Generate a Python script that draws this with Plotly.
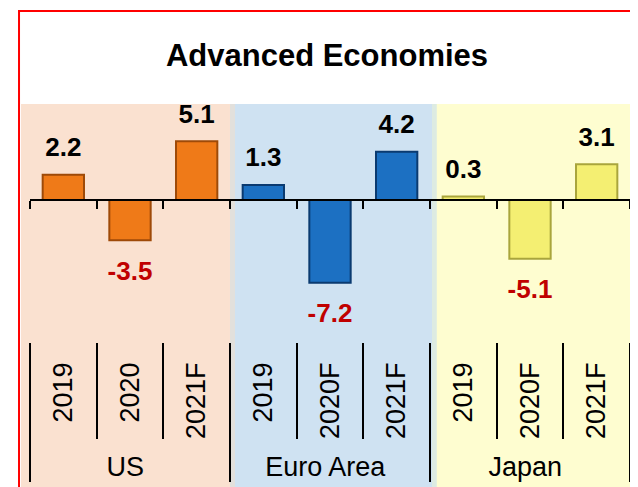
import plotly.graph_objects as go

countries = ["US", "US", "US", "Euro Area", "Euro Area", "Euro Area", "Japan", "Japan", "Japan"]
years = ["2019", "2020", "2021F", "2019", "2020F", "2021F", "2019", "2020F", "2021F"]
growth = [2.2, -3.5, 5.1, 1.3, -7.2, 4.2, 0.3, -5.1, 3.1]

face = {"US": "#EF7A18", "Euro Area": "#1C70C2", "Japan": "#F4EF72"}
edge = {"US": "#9E4A08", "Euro Area": "#0A3A70", "Japan": "#A9A53C"}
FONT = "Liberation Sans, Arial, sans-serif"

# plotly orders the 2nd level of a multicategory axis by first appearance,
# so feed the points year-major (2019s, then 2020s, then 2021s)
order = sorted(range(len(growth)), key=lambda i: i % 3)
cs = [countries[i] for i in order]
ys = [years[i] for i in order]
vals = [growth[i] for i in order]
xcat = [cs, ys]

ymin, ymax = -12.35, 8.35
zero_pos = (0 - ymin) / (ymax - ymin)

fig = go.Figure()

# background panels (paper coords)
panels = [(-0.015, 0.3367, "#FAE1D0"), (0.3367, 0.675, "#CFE2F2"), (0.675, 1.0033, "#FEFDD0")]
for x0, x1, c in panels:
    fig.add_shape(type="rect", xref="paper", yref="paper", x0=x0, x1=x1, y0=-0.7, y1=1,
                  fillcolor=c, line_width=0, layer="below")
fig.add_shape(type="rect", xref="paper", yref="paper", x0=0.3333, x1=0.3417, y0=-0.7, y1=1,
              fillcolor="#E2E0DC", line_width=0, layer="below")
fig.add_shape(type="rect", xref="paper", yref="paper", x0=0.67, x1=0.678, y0=-0.7, y1=1,
              fillcolor="#DDEBE2", line_width=0, layer="below")

fig.add_trace(go.Bar(
    x=xcat, y=vals, width=0.62,
    marker=dict(color=[face[c] for c in cs],
                line=dict(color=[edge[c] for c in cs], width=2)),
    hoverinfo="skip", showlegend=False,
))

# value labels
fig.add_trace(go.Scatter(
    x=xcat, y=vals, mode="markers+text",
    marker=dict(size=[18 if v >= 0 else 30 for v in vals], opacity=0),
    text=[f"{v:.1f}" for v in vals],
    textposition=["top center" if v >= 0 else "bottom center" for v in vals],
    textfont=dict(family=FONT, size=26, weight="bold",
                  color=["#000000" if v >= 0 else "#C00000" for v in vals]),
    hoverinfo="skip", showlegend=False,
))

# helper traces for the zero axis and the year dividers
for ax in ["x2", "x3"]:
    fig.add_trace(go.Scatter(x=xcat, y=vals, xaxis=ax, mode="markers",
                             marker=dict(opacity=0), hoverinfo="skip", showlegend=False))

xr = [-0.5, 8.5]
fig.update_layout(
    width=630, height=479,
    margin=dict(l=22, r=8, t=96, b=145),
    paper_bgcolor="white", plot_bgcolor="rgba(0,0,0,0)",
    font=dict(family=FONT, color="black"),
    title=dict(text="<b>Advanced Economies</b>", x=319 / 630, xref="container", xanchor="center",
               y=1 - 47 / 479, yref="container", yanchor="middle",
               font=dict(family=FONT, size=31, color="black")),
    xaxis=dict(type="multicategory", range=xr, tickangle=-90, ticks="", ticklabelstandoff=14,
               tickfont=dict(family=FONT, size=27, color="black"),
               showdividers=True, dividercolor="black", dividerwidth=2,
               showline=False, showgrid=False, zeroline=False, automargin=False),
    xaxis2=dict(type="multicategory", range=xr, overlaying="x", anchor="free", position=zero_pos,
                side="bottom", showticklabels=False, showdividers=False,
                showline=True, linecolor="black", linewidth=2,
                ticks="outside", ticklen=8, tickwidth=2, tickcolor="black", showgrid=False),
    xaxis3=dict(type="multicategory", range=xr, overlaying="x", anchor="free", position=0,
                side="bottom", showticklabels=False, showdividers=False, showline=False,
                ticks="outside", ticklen=96, tickwidth=2, tickcolor="black", showgrid=False),
    yaxis=dict(range=[ymin, ymax], visible=False),
)

fig.add_shape(type="rect", xref="paper", yref="paper",
              x0=-0.0183, x1=1.0067, y0=-0.7, y1=(334 - 3) / 238,
              line=dict(color="#FF0000", width=2), fillcolor="rgba(0,0,0,0)")

fig.write_html("out.html")
